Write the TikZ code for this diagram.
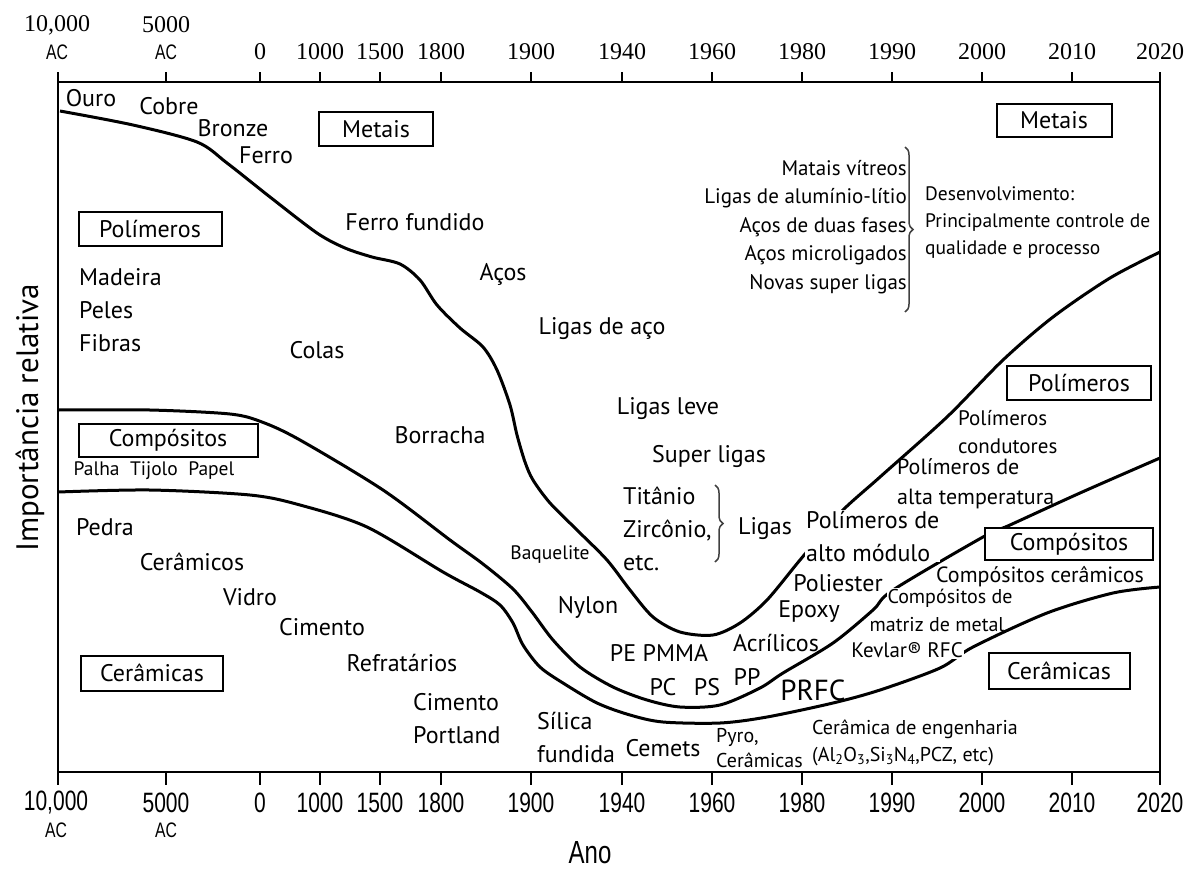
\documentclass[tikz,border=0pt]{standalone}
\usepackage{fontspec}
\setmainfont{PT Sans}
\newfontfamily\yearfont{Liberation Serif}
\newfontfamily\narrowfont{Liberation Sans}[FakeStretch=0.75]
\usetikzlibrary{decorations.pathreplacing}

\tikzset{
  curve/.style={line width=3pt, line join=round},
  matbox/.style={draw, line width=2pt, fill=white, inner sep=0pt, font=\fontsize{24}{28}\selectfont},
  lblbig/.style={inner sep=0pt, font=\fontsize{24}{33}\selectfont},
  lblmid/.style={inner sep=0pt, font=\fontsize{21}{28}\selectfont},
  lblsmall/.style={inner sep=0pt, font=\fontsize{19.5}{27}\selectfont},
  knock/.style={fill=white, inner sep=1pt},
  toplbl/.style={inner sep=0pt, font=\yearfont\fontsize{24}{28}\selectfont},
  botlbl/.style={inner sep=0pt, font=\narrowfont\fontsize{28}{30}\selectfont},
  aclbl/.style={inner sep=0pt, font=\narrowfont\fontsize{21}{24}\selectfont},
  brc/.style={decorate, decoration={brace, amplitude=8pt}, line width=1.5pt, black!75}
}

\begin{document}
\begin{tikzpicture}[x=1pt, y=-1pt]
  \useasboundingbox (0,0) rectangle (1197,871);

  % Frame and axes
  \draw[line width=2.5pt] (58,82) rectangle (1160,772);
  \draw[line width=2pt] (58,82) -- (58,72) (166,82) -- (166,72);
  \draw[line width=2pt] (58,772) -- (58,785) (166,772) -- (166,785);
  \foreach \x/\yr [count=\i] in {260/0, 320/1000, 380/1500, 441/1800, 531/1900, 622/1940,
      712/1960, 802/1980, 892/1990, 982/2000, 1072/2010, 1160/2020} {
    \draw[line width=2pt] (\x,82) -- (\x,72);
    \draw[line width=2pt] (\x,772) -- (\x,785);
    \node[toplbl] (top\i) at (\x,52) {\yr};
    \node[botlbl] (bot\i) at (\x,803) {\yr};
  }

  % Years before Christ
  \node[toplbl] (topA) at (57,25) {10,000};
  \node[aclbl] (topAac) at (57,52) {AC};
  \node[toplbl] (topB) at (166,25) {5000};
  \node[aclbl] (topBac) at (166,52) {AC};
  \node[botlbl] (botA) at (56,803) {10,000};
  \node[aclbl] (botAac) at (56,830) {AC};
  \node[botlbl] (botB) at (166,803) {5000};
  \node[aclbl] (botBac) at (166,830) {AC};

  % Axis titles
  \node[inner sep=0pt, font=\fontsize{31}{34}\selectfont, rotate=90] (ylab) at (30,418) {Importância relativa};
  \node[inner sep=0pt, font=\narrowfont\fontsize{32}{34}\selectfont] (xlab) at (590,853) {Ano};

  % Boundary curves
  \draw[curve] plot[smooth, tension=0.5] coordinates {(60,111) (133,125) (197,142) (227,163)
    (270,197) (317,233) (345,248) (372,257) (400,264) (420,280) (437,305) (460,328) (483,347)
    (497,370) (510,405) (517,435) (525,462) (533,480) (550,503) (577,530) (607,560) (630,590)
    (653,617) (680,632) (713,635) (740,623) (767,600) (800,560) (840,513) (880,477) (947,417)
    (1003,360) (1053,317) (1110,278) (1160,252)};
  \draw[curve] plot[smooth, tension=0.5] coordinates {(58,410) (150,410) (230,414) (262,422)
    (300,440) (383,490) (450,540) (483,564) (513,589) (532,612) (553,640) (580,667) (613,687)
    (647,700) (680,707) (720,705) (760,688) (783,673) (833,643) (873,610) (893,590) (983,537)
    (1010,525) (1080,493) (1160,458)};
  \draw[curve] plot[smooth, tension=0.5] coordinates {(58,492) (150,490) (250,495) (300,505)
    (367,527) (443,572) (480,592) (500,605) (513,623) (523,645) (540,667) (563,683) (597,703)
    (630,715) (663,722) (720,723) (767,717) (833,703) (880,690) (940,668) (973,647) (1047,613)
    (1113,593) (1160,587)};

  % Material boxes
  \node[matbox, minimum width=114pt, minimum height=34pt] (metL) at (376,129) {Metais};
  \node[matbox, minimum width=115pt, minimum height=33pt] (metR) at (1054,120) {Metais};
  \node[matbox, minimum width=143pt, minimum height=34pt] (polL) at (150,229) {Polímeros};
  \node[matbox, minimum width=144pt, minimum height=34pt] (polR) at (1079,383) {Polímeros};
  \node[matbox, minimum width=179pt, minimum height=33pt] (comL) at (168,440) {Compósitos};
  \node[matbox, minimum width=168pt, minimum height=32pt] (comR) at (1069,544) {Compósitos};
  \node[matbox, minimum width=142pt, minimum height=35pt] (cerL) at (152,673) {Cerâmicas};
  \node[matbox, minimum width=141pt, minimum height=36pt] (cerR) at (1059,671) {Cerâmicas};

  % Metals
  \node[lblbig] (ouro) at (91,98) {Ouro};
  \node[lblbig] (cobre) at (169,106) {Cobre};
  \node[lblbig] (bronze) at (233,128) {Bronze};
  \node[lblbig] (ferro) at (266,155) {Ferro};
  \node[lblbig] (fundido) at (415,222) {Ferro fundido};
  \node[lblbig] (acos) at (503,274) {Aços};
  \node[lblbig] (ligaco) at (602,329) {Ligas de aço};
  \node[lblbig] (leve) at (668,409) {Ligas leve};
  \node[lblbig] (super) at (709,456) {Super ligas};
  \node[lblbig, anchor=west, align=left] (titanio) at (623,529) {Titânio\\Zircônio,\\etc.};
  \draw[brc] (715,485) -- (715,562);
  \node[lblbig] (ligas) at (765,529) {Ligas};
  \node[lblmid, anchor=east, align=right, font=\fontsize{21}{28.5}\selectfont] (novos) at (907,227)
    {Matais vítreos\\Ligas de alumínio-lítio\\Aços de duas fases\\Aços microligados\\Novas super ligas};
  \draw[brc] (905,147) -- (905,312);
  \node[lblsmall, anchor=west, align=left] (desenv) at (925,223)
    {Desenvolvimento:\\Principalmente controle de\\qualidade e processo};

  % Polymers
  \node[lblbig, anchor=west, align=left] (madeira) at (79,310) {Madeira\\Peles\\Fibras};
  \node[lblbig] (colas) at (317,350) {Colas};
  \node[lblbig] (borracha) at (440,435) {Borracha};
  \node[lblsmall] (baquelite) at (550,555) {Baquelite};
  \node[lblbig] (nylon) at (588,607) {Nylon};
  \node[lblbig] (pmma) at (659,653) {PE PMMA};
  \node[lblbig] (pc) at (663,687) {PC};
  \node[lblbig] (ps) at (707,687) {PS};
  \node[lblbig] (pp) at (747,677) {PP};
  \node[lblbig] (acril) at (776,643) {Acrílicos};
  \node[lblbig] (epoxy) at (809,612) {Epoxy};
  \node[lblbig] (poliest) at (838,583) {Poliester};
  \node[lblbig, knock, anchor=west, align=left] (altomod) at (805,536) {Polímeros de\\alto módulo};
  \node[lblmid, anchor=west, align=left, font=\fontsize{22}{30}\selectfont] (altatemp) at (897,484)
    {Polímeros de\\alta temperatura};
  \node[lblmid, anchor=west, align=left] (condut) at (958,432) {Polímeros\\condutores};

  % Composites
  \node[lblsmall] (palha) at (154,471) {Palha~ Tijolo~ Papel};
  \node[lblbig, font=\fontsize{29}{32}\selectfont] (prfc) at (813,690) {PRFC};
  \node[lblmid, knock] (kevlar) at (907,650) {Kevlar® RFC};
  \node[lblsmall, knock, font=\fontsize{20}{24}\selectfont] (matriz1) at (950,598) {Compósitos de};
  \node[lblsmall, font=\fontsize{20}{24}\selectfont] (matriz2) at (937,625) {matriz de metal};
  \node[lblmid, font=\fontsize{22}{26}\selectfont] (comcer) at (1040,577) {Compósitos cerâmicos};

  % Ceramics
  \node[lblbig] (pedra) at (105,527) {Pedra};
  \node[lblbig] (ceramicos) at (192,562) {Cerâmicos};
  \node[lblbig] (vidro) at (250,597) {Vidro};
  \node[lblbig] (cimento) at (322,627) {Cimento};
  \node[lblbig] (refrat) at (402,663) {Refratários};
  \node[lblbig, anchor=west, align=left] (portland) at (413,719) {Cimento\\Portland};
  \node[lblbig, anchor=west, align=left] (silica) at (537,737) {Sílica\\fundida};
  \node[lblbig] (cemets) at (663,748) {Cemets};
  \node[lblsmall, anchor=west, align=left, font=\fontsize{20}{25}\selectfont] (pyro) at (716,748) {Pyro,\\Cerâmicas};
  \node[lblsmall, anchor=west, align=left, font=\fontsize{20}{27}\selectfont] (engen) at (812,743)
    {Cerâmica de engenharia\\(Al\textsubscript{2}O\textsubscript{3},Si\textsubscript{3}N\textsubscript{4},PCZ, etc)};
\end{tikzpicture}
\end{document}
